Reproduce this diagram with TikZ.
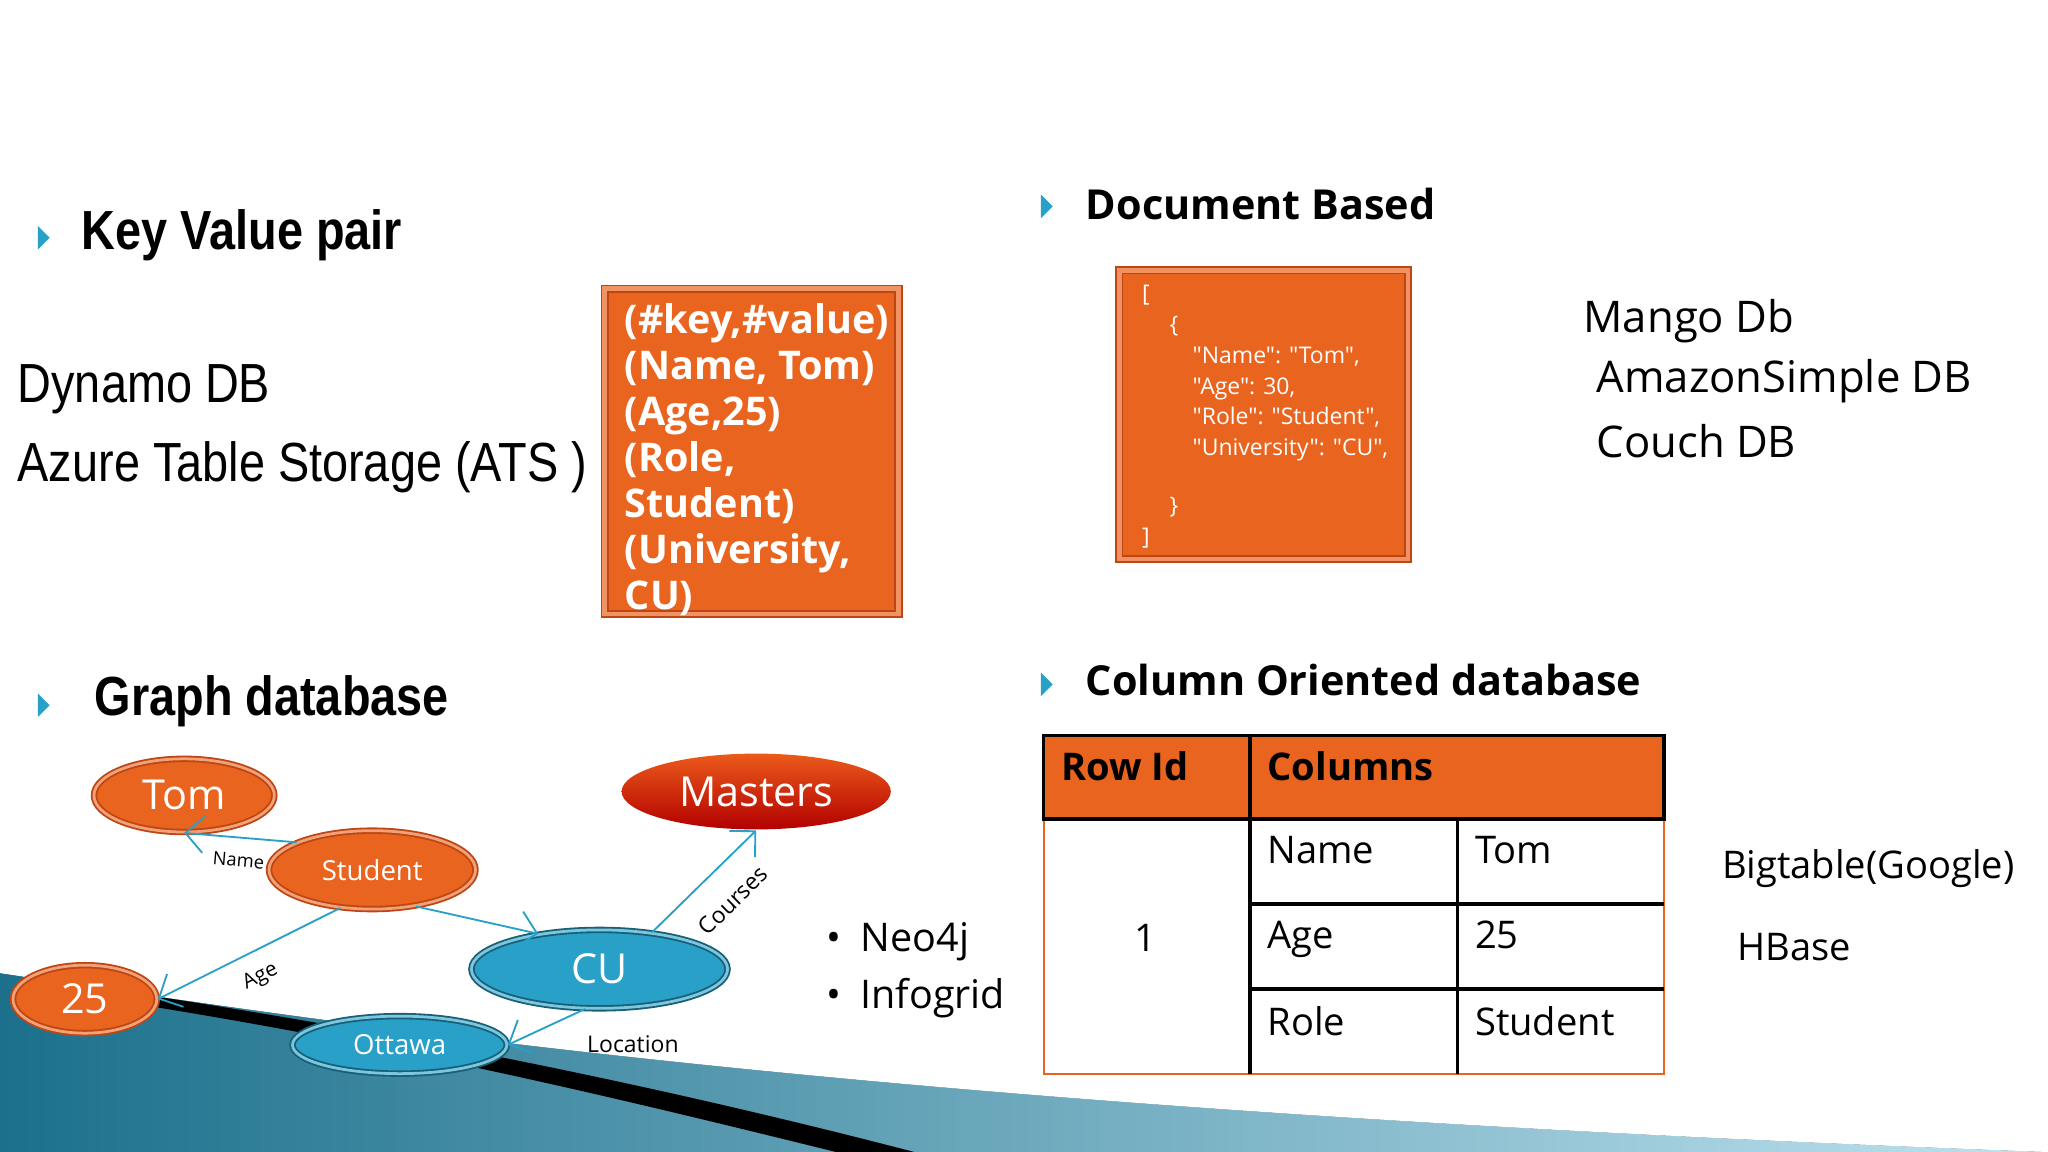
\documentclass[tikz,border=0pt]{standalone}
\usepackage{fontspec}
\setmainfont{Open Sans}
\newfontfamily\headfont{Liberation Sans}
\newfontfamily\plainfont{Open Sans}
\usetikzlibrary{positioning,shapes.geometric,arrows.meta}
\definecolor{orng}{RGB}{233,100,30}
\definecolor{orngdark}{RGB}{190,70,20}
\definecolor{cyanb}{RGB}{40,160,200}
\definecolor{bullet}{RGB}{40,160,200}
\begin{document}
\begin{tikzpicture}[x=0.01cm,y=-0.01cm,
    oval/.style={ellipse, draw=orngdark, double=orng!60, double distance=0.6pt, fill=orng, text=white, inner sep=0pt},
    blueoval/.style={ellipse, draw=cyanb!60!black, double=cyanb!60, double distance=0.6pt, fill=cyanb, text=white, inner sep=0pt},
    link/.style={-{Straight Barb[length=4pt]}, cyanb, thin},
    heading/.style={anchor=west, xscale=0.85, font=\headfont\bfseries\fontsize{12}{14}\selectfont},
    heading2/.style={anchor=west, font=\bfseries\fontsize{9}{11}\selectfont},
    tri/.style={fill=bullet, draw=none},
    cell/.style={anchor=north west, font=\fontsize{8.3}{10}\selectfont},
    side/.style={anchor=west, font=\fontsize{9.5}{11}\selectfont}
  ]
  \useasboundingbox (0,0) rectangle (1568,882);
  % swoosh at the bottom
  \fill[left color=cyanb!70!black, right color=cyanb!30] (0,745) .. controls (300,790) and (700,850) .. (1568,882) -- (0,882) -- cycle;
  \fill[black] (100,760) .. controls (300,790) and (500,830) .. (700,882) -- (640,882) .. controls (450,835) and (300,800) .. (100,768) -- cycle;
  \fill[white] (0,745) .. controls (300,790) and (700,850) .. (1568,882) -- (1568,0) -- (0,0) -- cycle;
  % bullets
  \foreach \bx/\by in {33/182, 33/540, 801/158, 801/524}
    \fill[tri] (\bx-4,\by-9) -- (\bx+5,\by) -- (\bx-4,\by+9) -- cycle;
  \node[heading] (kv) at (52,180) {Key Value pair};
  \node[heading] (gd) at (62,537) {Graph database};
  \node[heading2] (db) at (819,156) {Document Based};
  \node[heading2] (co) at (819,521) {Column Oriented database};
  % key value
  \node[anchor=west, xscale=0.85, font=\headfont\fontsize{12}{14}\selectfont] (dyn) at (3,298) {Dynamo DB};
  \node[anchor=west, xscale=0.85, font=\headfont\fontsize{12}{14}\selectfont] (ats) at (3,358) {Azure Table Storage (ATS )};
  \draw[orngdark, double=orng!70, double distance=1pt, fill=orng] (463,221) rectangle (688,470);
  \node[anchor=north west, text=white, font=\bfseries\fontsize{8.6}{10}\selectfont, align=left] (kvbox) at (466,220)
    {(\#key,\#value)\\(Name, Tom)\\(Age,25)\\(Role,\\Student)\\(University,\\CU)};
  % document
  \draw[orngdark, double=orng!70, double distance=1pt, fill=orng] (857,207) rectangle (1078,428);
  \node[anchor=north west, text=white, font=\plainfont\fontsize{5}{6.7}\selectfont, align=left] (json) at (862,206)
    {[\\\hspace{1.2em}\{\\\hspace{2.2em}"Name": "Tom",\\\hspace{2.2em}"Age": 30,\\\hspace{2.2em}"Role": "Student",\\\hspace{2.2em}"University": "CU",\\[6pt]\hspace{1.2em}\}\\]};
  \node[side] (mdb) at (1200,246) {Mango Db};
  \node[side] (asd) at (1210,292) {AmazonSimple DB};
  \node[side] (cdb) at (1210,338) {Couch DB};
  % graph
  \node[oval, minimum width=1.38cm, minimum height=0.56cm, font=\fontsize{9}{11}\selectfont] (tom) at (141,609) {Tom};
  \node[oval, minimum width=1.58cm, minimum height=0.6cm, font=\fontsize{6}{8}\selectfont] (student) at (285,666) {Student};
  \node[oval, minimum width=1.1cm, minimum height=0.52cm, font=\fontsize{9}{11}\selectfont] (n25) at (65,765) {25};
  \node[blueoval, minimum width=1.96cm, minimum height=0.6cm, font=\fontsize{9}{11}\selectfont] (cu) at (459,742) {CU};
  \node[blueoval, minimum width=1.64cm, minimum height=0.44cm, font=\fontsize{6}{8}\selectfont] (ottawa) at (306,800) {Ottawa};
  \node[ellipse, draw=none, top color=orng!90!red, bottom color=red!70!black, text=white, minimum width=2.06cm, minimum height=0.58cm, inner sep=0pt, font=\fontsize{9}{11}\selectfont] (masters) at (579,606) {Masters};
  \draw[link] (student.160) -- (tom.south) node[midway, sloped, below, font=\fontsize{4}{5}\selectfont, text=black] {Name};
  \draw[link] (student.230) -- (n25.east) node[midway, sloped, below, font=\fontsize{4.5}{5}\selectfont, text=black] {Age};
  \draw[link] (student.320) -- (cu.150);
  \draw[link] (cu.35) -- (masters.south) node[pos=0.55, sloped, below, yshift=-2pt, font=\fontsize{5}{6}\selectfont, text=black] {Courses};
  \draw[link] (cu.250) -- (ottawa.east) node[pos=0.3, below right, xshift=2pt, font=\fontsize{5}{6}\selectfont, text=black] {Location};
  \node[anchor=west, font=\fontsize{8.6}{12.4}\selectfont, align=left] (neo) at (620,743) {\textbullet\enspace Neo4j\\\textbullet\enspace Infogrid};
  % table
  \fill[orng] (799,563) rectangle (1274,627);
  \draw[orng] (799,563) rectangle (1274,822);
  \draw[black, thick] (799,563) rectangle (1274,627);
  \draw[black, thick] (957,563) -- (957,822);
  \draw[black, thick] (1116,627) -- (1116,822);
  \draw[black, thick] (957,692) -- (1274,692) (957,757) -- (1274,757);
  \node[cell, font=\bfseries\fontsize{8.3}{10}\selectfont] (rid) at (800,563) {Row Id};
  \node[cell, font=\bfseries\fontsize{8.3}{10}\selectfont] (cols) at (958,563) {Columns};
  \node[font=\fontsize{8.3}{10}\selectfont] (one) at (877,718) {1};
  \node[cell] (c1) at (958,628) {Name};
  \node[cell] (c2) at (1117,628) {Tom};
  \node[cell] (c3) at (958,693) {Age};
  \node[cell] (c4) at (1117,693) {25};
  \node[cell] (c5) at (958,758) {Role};
  \node[cell] (c6) at (1117,758) {Student};
  \node[anchor=west, font=\fontsize{8.3}{10}\selectfont] (bt) at (1306,665) {Bigtable(Google)};
  \node[anchor=west, font=\fontsize{8.3}{10}\selectfont] (hb) at (1318,725) {HBase};
\end{tikzpicture}
\end{document}
